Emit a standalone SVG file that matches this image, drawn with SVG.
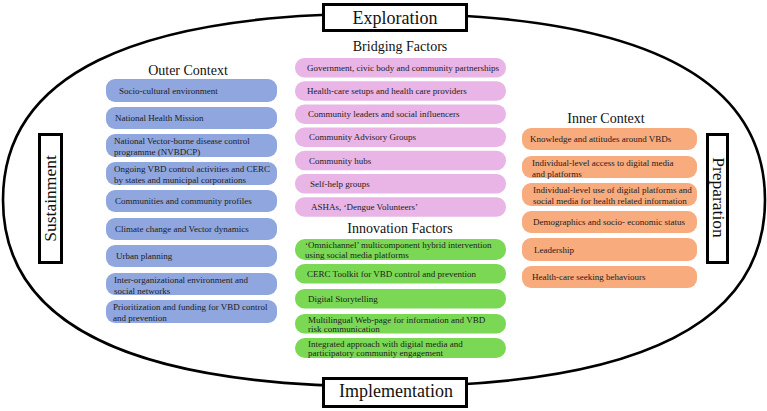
<svg xmlns="http://www.w3.org/2000/svg" width="767" height="411" viewBox="0 0 767 411">
  <style>
    .ring { fill: none; stroke: #000; stroke-width: 2.6; }
    .phase { fill: #fff; stroke: #000; stroke-width: 3; }
    .phase-t { font-family: "Liberation Serif", "Times New Roman", serif; font-size: 18px; fill: #111; }
    .title { font-family: "Liberation Serif", "Times New Roman", serif; font-size: 14px; fill: #111; text-anchor: middle; }
    .lbl { font-family: "Liberation Serif", "Times New Roman", serif; font-size: 9px; fill: #1c1c1c; }
    .outer { fill: #8fa6de; }
    .bridge { fill: #e8b5e6; }
    .innov { fill: #7bd855; }
    .inner { fill: #f8ab7d; }
  </style>

  <!-- EPIS cycle ring -->
  <g id="connectors">
    <path class="ring" d="M3,200 C3,76 130.6,13.5 384,13.5 C637.4,13.5 765,76 765,200 C765,324 637.4,386.5 384,386.5 C130.6,386.5 3,324 3,200 Z"/>
  </g>

  <!-- Phase labels -->
  <g id="exploration">
    <rect class="phase" x="323.5" y="4.5" width="143" height="26"/>
    <text class="phase-t" x="395" y="23.5" text-anchor="middle">Exploration</text>
  </g>
  <g id="implementation">
    <rect class="phase" x="323.5" y="378.5" width="143" height="28"/>
    <text class="phase-t" x="396" y="397" text-anchor="middle">Implementation</text>
  </g>
  <g id="sustainment">
    <rect class="phase" x="39.5" y="134.5" width="22" height="128"/>
    <text class="phase-t" style="font-size:17.5px" text-anchor="middle" transform="translate(55.5,198.5) rotate(-90)">Sustainment</text>
  </g>
  <g id="preparation">
    <rect class="phase" x="707.5" y="134.5" width="20" height="128"/>
    <text class="phase-t" style="font-size:17.5px" text-anchor="middle" transform="translate(713,197.5) rotate(90)">Preparation</text>
  </g>

  <!-- Outer context -->
  <g id="outer-context">
    <text class="title" x="188" y="75">Outer Context</text>
    <rect class="outer" x="106" y="79" width="171" height="23" rx="9"/>
    <text class="lbl" x="119" y="93.5">Socio-cultural environment</text>
    <rect class="outer" x="106" y="107" width="171" height="22" rx="9"/>
    <text class="lbl" x="115" y="121">National Health Mission</text>
    <rect class="outer" x="106" y="134" width="171" height="23" rx="9"/>
    <text class="lbl" x="114" y="144">National Vector-borne disease control</text>
    <text class="lbl" x="114" y="155">programme (NVBDCP)</text>
    <rect class="outer" x="106" y="162" width="171" height="23" rx="9"/>
    <text class="lbl" x="114" y="172">Ongoing VBD control activities and CERC</text>
    <text class="lbl" x="114" y="183">by states and municipal corporations</text>
    <rect class="outer" x="106" y="190" width="171" height="22" rx="9"/>
    <text class="lbl" x="115" y="204">Communities and community profiles</text>
    <rect class="outer" x="106" y="218" width="171" height="22" rx="9"/>
    <text class="lbl" x="115" y="232">Climate change and Vector dynamics</text>
    <rect class="outer" x="106" y="245" width="171" height="22" rx="9"/>
    <text class="lbl" x="116" y="259">Urban planning</text>
    <rect class="outer" x="106" y="273" width="171" height="22" rx="9"/>
    <text class="lbl" x="114" y="282.5">Inter-organizational environment and</text>
    <text class="lbl" x="114" y="293.5">social networks</text>
    <rect class="outer" x="106" y="300" width="171" height="23" rx="9"/>
    <text class="lbl" x="113" y="310">Prioritization and funding for VBD control</text>
    <text class="lbl" x="113" y="321">and prevention</text>
  </g>

  <!-- Bridging factors -->
  <g id="bridging-factors">
    <text class="title" x="400" y="51">Bridging Factors</text>
    <rect class="bridge" x="295" y="58" width="211" height="19.5" rx="9.5"/>
    <text class="lbl" x="307" y="70.8">Government, civic body and community partnerships</text>
    <rect class="bridge" x="295" y="81.2" width="211" height="19.5" rx="9.5"/>
    <text class="lbl" x="307" y="94">Health-care setups and health care providers</text>
    <rect class="bridge" x="295" y="104.4" width="211" height="19.5" rx="9.5"/>
    <text class="lbl" x="308" y="117.2">Community leaders and social influencers</text>
    <rect class="bridge" x="295" y="127.6" width="211" height="19.5" rx="9.5"/>
    <text class="lbl" x="309" y="140.4">Community Advisory Groups</text>
    <rect class="bridge" x="295" y="150.8" width="211" height="19.5" rx="9.5"/>
    <text class="lbl" x="309" y="163.6">Community hubs</text>
    <rect class="bridge" x="295" y="174" width="211" height="19.5" rx="9.5"/>
    <text class="lbl" x="310" y="186.8">Self-help groups</text>
    <rect class="bridge" x="295" y="197.2" width="211" height="19.5" rx="9.5"/>
    <text class="lbl" x="311" y="210">ASHAs, ‘Dengue Volunteers’</text>
  </g>

  <!-- Innovation factors -->
  <g id="innovation-factors">
    <text class="title" x="400" y="233">Innovation Factors</text>
    <rect class="innov" x="295" y="239" width="211" height="21" rx="10"/>
    <text class="lbl" x="305" y="247.5">‘Omnichannel’ multicomponent hybrid intervention</text>
    <text class="lbl" x="305" y="257.5">using social media platforms</text>
    <rect class="innov" x="295" y="264" width="211" height="19.5" rx="9.5"/>
    <text class="lbl" x="307" y="276.8">CERC Toolkit for VBD control and prevention</text>
    <rect class="innov" x="295" y="289" width="211" height="19.5" rx="9.5"/>
    <text class="lbl" x="308" y="301.8">Digital Storytelling</text>
    <rect class="innov" x="295" y="314" width="211" height="19.5" rx="9.5"/>
    <text class="lbl" x="308" y="322.5">Multilingual Web-page for information and VBD</text>
    <text class="lbl" x="308" y="332">risk communication</text>
    <rect class="innov" x="295" y="338" width="211" height="20" rx="10"/>
    <text class="lbl" x="308" y="346.5">Integrated approach with digital media and</text>
    <text class="lbl" x="308" y="356.3">participatory community engagement</text>
  </g>

  <!-- Inner context -->
  <g id="inner-context">
    <text class="title" x="606" y="123">Inner Context</text>
    <rect class="inner" x="522" y="128" width="175" height="22" rx="9"/>
    <text class="lbl" x="530" y="142">Knowledge and attitudes around VBDs</text>
    <rect class="inner" x="522" y="156" width="175" height="22" rx="9"/>
    <text class="lbl" x="532" y="166">Individual-level access to digital media</text>
    <text class="lbl" x="532" y="177">and platforms</text>
    <rect class="inner" x="522" y="183" width="175" height="23" rx="9"/>
    <text class="lbl" x="533" y="193">Individual-level use of digital platforms and</text>
    <text class="lbl" x="533" y="204">social media for health related information</text>
    <rect class="inner" x="522" y="211" width="175" height="22" rx="9"/>
    <text class="lbl" x="533" y="225">Demographics and socio- economic status</text>
    <rect class="inner" x="522" y="238" width="175" height="23" rx="9"/>
    <text class="lbl" x="534" y="252.5">Leadership</text>
    <rect class="inner" x="522" y="266" width="175" height="22" rx="9"/>
    <text class="lbl" x="532" y="280">Health-care seeking behaviours</text>
  </g>
</svg>
